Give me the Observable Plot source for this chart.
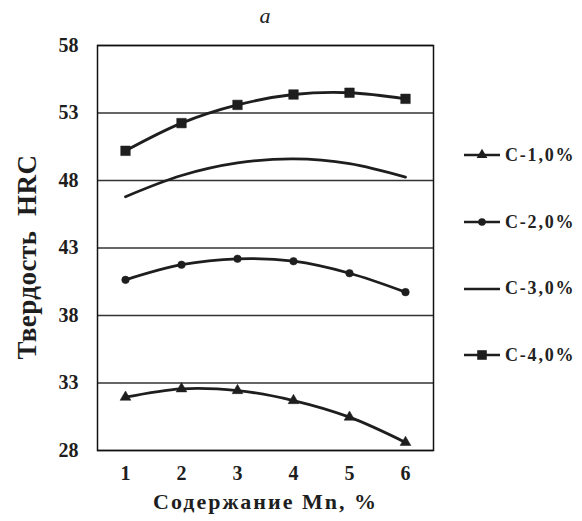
<!DOCTYPE html>
<html>
<head>
<meta charset="utf-8">
<script src="https://cdn.jsdelivr.net/npm/d3@7"></script>
<script src="https://cdn.jsdelivr.net/npm/@observablehq/plot@0.6"></script>
<style>
  html, body { margin: 0; padding: 0; background: #fff; }
  #wrap { position: relative; width: 582px; height: 521px; font-family: "Liberation Serif", serif; color: #222; }
  #title { position: absolute; left: 97px; width: 336px; top: 3px; text-align: center; font-style: italic; font-size: 22px; }
  #legend { position: absolute; left: 462px; top: 122px; }
  .item { display: flex; align-items: center; height: 66.7px; font-weight: bold; font-size: 18px; letter-spacing: 1.8px; }
  .item svg { margin-right: 3px; }
</style>
</head>
<body>
<div id="wrap">
  <div id="title">a</div>
  <div id="chart"></div>
  <div id="legend"></div>
</div>
<script>
const mn = [1, 2, 3, 4, 5, 6];
const c1 = [31.95, 32.57, 32.44, 31.7, 30.47, 28.6];
const c2 = [40.64, 41.76, 42.2, 42.02, 41.13, 39.73];
const c3 = [46.8, 48.37, 49.3, 49.6, 49.25, 48.25];
const c4 = [50.2, 52.25, 53.6, 54.37, 54.5, 54.05];
const seriesNames = ["C-1,0%", "C-2,0%", "C-3,0%", "C-4,0%"];
const seriesValues = [c1, c2, c3, c4];
const seriesSymbols = ["triangle", "circle", null, "square"];
const seriesR = [4, 3.8, 0, 5.4];
const yTicks = [28, 33, 38, 43, 48, 53, 58];
const xLabel = "Содержание Mn, %";
const yLabel = "Твердость  HRC";

const ink = "#1e1e1e";
const rows = seriesNames.flatMap((name, k) =>
  mn.map((m, i) => ({series: name, mn: m, hrc: seriesValues[k][i]}))
);

const marks = [
  Plot.gridY(yTicks, {stroke: "#333", strokeOpacity: 1, strokeWidth: 1.3}),
  Plot.frame({stroke: "#111", strokeWidth: 1.5}),
  Plot.axisY(yTicks, {tickSize: 0, tickPadding: 19, fontSize: 20, fontWeight: "bold", label: yLabel, labelArrow: "none", labelAnchor: "center", labelOffset: 80}),
  Plot.axisX({tickSize: 0, tickPadding: 15, fontSize: 20, fontWeight: "bold", label: xLabel, labelArrow: "none", labelAnchor: "center", labelOffset: 58})
];
seriesNames.forEach((name, k) => {
  const data = rows.filter(d => d.series === name);
  marks.push(Plot.line(data, {x: "mn", y: "hrc", stroke: ink, strokeWidth: 2.8, curve: "catmull-rom"}));
  if (seriesSymbols[k]) {
    marks.push(Plot.dot(data, {x: "mn", y: "hrc", symbol: () => seriesSymbols[k], r: seriesR[k], fill: ink, stroke: ink, strokeWidth: 0.5}));
  }
});

const chart = Plot.plot({
  width: 582,
  height: 521,
  marginTop: 45,
  marginLeft: 97,
  marginRight: 149,
  marginBottom: 71,
  style: {fontFamily: "Liberation Serif", color: ink, background: "#fff", overflow: "visible"},
  x: {type: "point", domain: mn, padding: 0.5},
  y: {domain: [28, 58]},
  symbol: {type: "identity"},
  marks
});
document.getElementById("chart").appendChild(chart);

// axis label styling
const yl = d3.select(chart).select('[aria-label="y-axis label"]');
yl.attr("font-size", 27).attr("font-weight", "bold").style("letter-spacing", "0.5px")
  .attr("transform", "translate(-1,9) " + (yl.attr("transform") || ""));
yl.selectAll("text").attr("font-size", 27).attr("font-weight", "bold");
d3.select(chart).selectAll('[aria-label="x-axis label"] text, [aria-label="x-axis label"]')
  .attr("font-size", 22).attr("font-weight", "bold").style("letter-spacing", "2px");

// legend
const legend = d3.select("#legend");
seriesNames.forEach((name, k) => {
  const item = legend.append("div").attr("class", "item");
  const s = item.append("svg").attr("width", 40).attr("height", 20);
  s.append("line").attr("x1", 2).attr("x2", 38).attr("y1", 10).attr("y2", 10).attr("stroke", ink).attr("stroke-width", 2.6);
  if (seriesSymbols[k]) {
    const sym = {triangle: d3.symbolTriangle, circle: d3.symbolCircle, square: d3.symbolSquare}[seriesSymbols[k]];
    const r = seriesR[k];
    s.append("path").attr("transform", "translate(20,10)")
      .attr("d", d3.symbol(sym, Math.PI * r * r)()).attr("fill", ink);
  }
  item.append("span").text(name);
});
</script>
</body>
</html>
